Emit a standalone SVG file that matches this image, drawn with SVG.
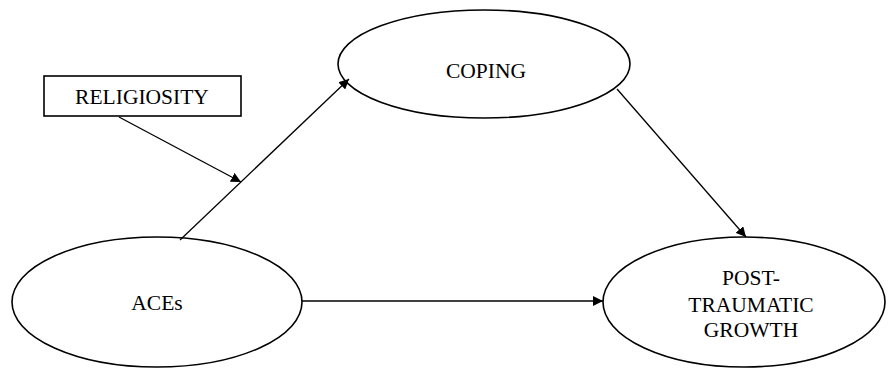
<svg xmlns="http://www.w3.org/2000/svg" width="890" height="369" viewBox="0 0 890 369">
<style>
.shape{fill:#fff;stroke:#000;stroke-width:1.6}
.lbl{font-family:"Liberation Serif","Times New Roman",serif;font-size:21.5px;fill:#000;text-anchor:middle}
.conn{stroke:#000;stroke-width:1.3;fill:none;marker-end:url(#ah)}
</style>
<defs>
<marker id="ah" viewBox="0 0 10 10" refX="10" refY="5" markerWidth="10" markerHeight="10" markerUnits="userSpaceOnUse" orient="auto">
<path d="M0,0 L10,5 L0,10 z" fill="#000"/>
</marker>
</defs>
<rect width="890" height="369" fill="#fff"/>
<g id="coping">
<ellipse class="shape" cx="484" cy="64" rx="146" ry="54"/>
<text class="lbl" x="486" y="78">COPING</text>
</g>
<g id="religiosity">
<rect class="shape" x="44" y="76" width="197" height="40"/>
<text class="lbl" x="142" y="104">RELIGIOSITY</text>
</g>
<g id="aces">
<ellipse class="shape" cx="157" cy="302" rx="145" ry="65"/>
<text class="lbl" x="157" y="310">ACEs</text>
</g>
<g id="ptg">
<ellipse class="shape" cx="744" cy="302" rx="141" ry="65"/>
<text class="lbl" x="751" y="285">POST-</text>
<text class="lbl" x="751" y="312">TRAUMATIC</text>
<text class="lbl" x="751" y="337">GROWTH</text>
</g>
<g id="connectors">
<line class="conn" x1="180" y1="240" x2="349" y2="79"/>
<line class="conn" x1="119" y1="117" x2="241" y2="182"/>
<line class="conn" x1="302" y1="301" x2="603" y2="301"/>
<line class="conn" x1="617" y1="89" x2="746" y2="237"/>
</g>
</svg>
